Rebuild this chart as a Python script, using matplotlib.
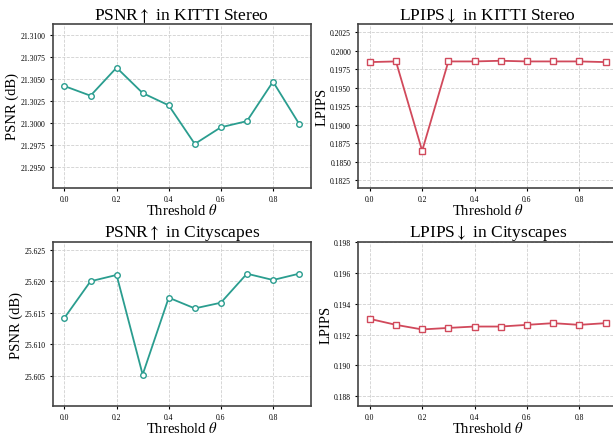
import matplotlib
matplotlib.use('Agg')
import matplotlib.pyplot as plt
import numpy as np

plt.rcParams['font.family'] = ['Liberation Serif', 'DejaVu Serif']
plt.rcParams['mathtext.fontset'] = 'stix'

thresholds = [0.0, 0.1, 0.2, 0.3, 0.4, 0.5, 0.6, 0.7, 0.8, 0.9]

psnr_kitti = [21.3042, 21.3031, 21.3063, 21.3034, 21.3020, 21.2976, 21.2995, 21.3002, 21.3047, 21.2999]
lpips_kitti = [0.19846, 0.19855, 0.18646, 0.19855, 0.19855, 0.19864, 0.19855, 0.19855, 0.19855, 0.19846]
psnr_city = [25.6142, 25.6200, 25.6210, 25.6052, 25.6174, 25.6157, 25.6166, 25.6212, 25.6202, 25.6212]
lpips_city = [0.19302, 0.19263, 0.19233, 0.19243, 0.19252, 0.19252, 0.19263, 0.19274, 0.19263, 0.19274]

teal = '#2a9d8f'
red = '#d1495b'

panels = [
    (psnr_kitti, 'PSNR$\\uparrow$ in KITTI Stereo', 'PSNR (dB)', teal, 'o'),
    (lpips_kitti, 'LPIPS$\\downarrow$ in KITTI Stereo', 'LPIPS', red, 's'),
    (psnr_city, 'PSNR$\\uparrow$ in Cityscapes', 'PSNR (dB)', teal, 'o'),
    (lpips_city, 'LPIPS$\\downarrow$ in Cityscapes', 'LPIPS', red, 's'),
]

# axes boxes in figure coords (right column runs off the edge, like the source)
boxes = [
    [0.086, 0.566, 0.421, 0.377],
    [0.584, 0.566, 0.423, 0.377],
    [0.086, 0.064, 0.421, 0.377],
    [0.584, 0.064, 0.423, 0.377],
]

fig = plt.figure(figsize=(6.13, 4.35), dpi=100)

for (vals, title, ylabel, color, marker), box in zip(panels, boxes):
    ax = fig.add_axes(box)
    ax.plot(thresholds, vals, color=color, lw=1.3, marker=marker, ms=4,
            mfc='white', mec=color, mew=1.0, zorder=3)
    ax.set_ylim(min(vals) - 0.005, max(vals) + 0.005)
    ax.set_xticks([0.0, 0.2, 0.4, 0.6, 0.8])
    ax.ticklabel_format(axis='y', useOffset=False)
    ax.grid(True, linestyle='--', color='#d0d0d0', linewidth=0.6)
    ax.set_title(title, fontsize=12.5, pad=3)
    ax.set_ylabel(ylabel, fontsize=10.5, labelpad=1)
    ax.set_xlabel('Threshold $\\theta$', fontsize=10.5, labelpad=-0.5)
    ax.tick_params(labelsize=5.5, length=2.5, width=0.8, pad=2.5)
    for s in ax.spines.values():
        s.set_linewidth(1.2)
        s.set_color('#444444')

fig.savefig('out.png', dpi=100)
